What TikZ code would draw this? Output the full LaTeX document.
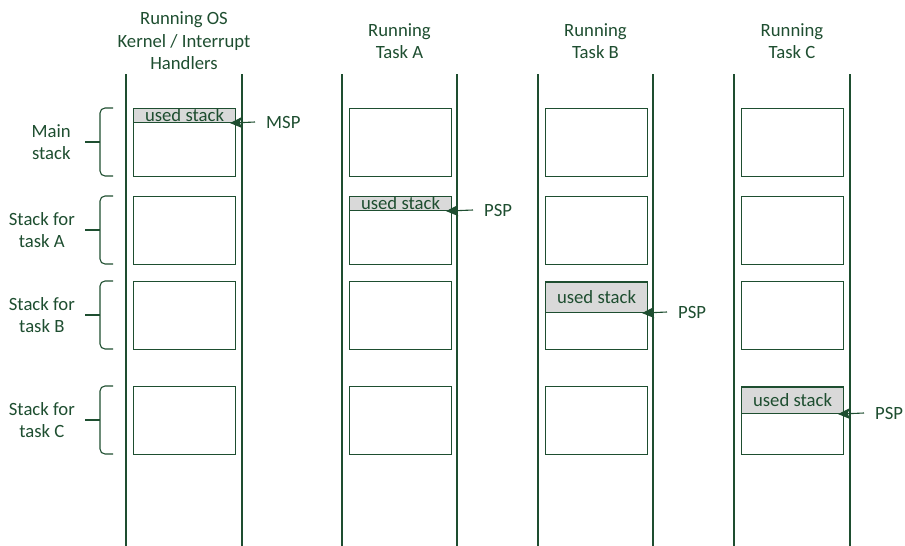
\documentclass[tikz,border=0pt]{standalone}
\usepackage{fontspec}
\setmainfont{Carlito}
\usetikzlibrary{arrows.meta,positioning}
\definecolor{DarkGreen}{RGB}{30,78,48}
\definecolor{UsedGray}{RGB}{217,217,217}

\begin{document}
\begin{tikzpicture}[x=1pt,y=-1pt,>=Latex,
  every node/.style={text=DarkGreen,font=\fontsize{18.7}{22.4}\selectfont},
  colline/.style={draw=DarkGreen,line width=1.1pt},
  stackbox/.style={draw=DarkGreen,line width=1.1pt,minimum width=102pt,minimum height=68pt,inner sep=0pt,anchor=north west},
  usedbox/.style={draw=DarkGreen,fill=UsedGray,line width=1.1pt,minimum width=102pt,inner sep=0pt,anchor=north west},
  bracket/.style={draw=DarkGreen,line width=1.1pt,rounded corners=5pt},
  ptr/.style={draw=DarkGreen,line width=1.1pt,-{Stealth[length=12pt,width=11pt,inset=2.5pt]}}]
\useasboundingbox (0,0) rectangle (905,546);
% time lines of the four running contexts
\foreach \x in {126,242,342,457,538,653,734,850}
  \draw[colline] (\x,74) -- (\x,546);
\node[align=center] (h1) at (184,41) {Running OS\\Kernel / Interrupt\\Handlers};
\node[align=center] (h2) at (399.5,41) {Running\\Task A};
\node[align=center] (h3) at (595.5,41) {Running\\Task B};
\node[align=center] (h4) at (792,41) {Running\\Task C};
% stack areas
\foreach \c/\x in {1/133,2/349,3/545,4/741}
  \foreach \r/\y in {m/108,a/196,b/281,c/386}
    \node[stackbox] (s\c\r) at (\x,\y) {};
% brackets on the left
\foreach \t/\m/\b in {108/142/176,196/230/264,281/315/349,386/420/454}{
  \draw[bracket] (113,\t) -| (100,\m) |- (113,\b);
  \draw[bracket] (100,\m) -- (85,\m);
}
\node[anchor=east,align=center,inner sep=0pt] (lm) at (71,142) {Main\\stack};
\node[anchor=east,align=center,inner sep=0pt] (la) at (75,230) {Stack for\\task A};
\node[anchor=east,align=center,inner sep=0pt] (lb) at (75,315) {Stack for\\task B};
\node[anchor=east,align=center,inner sep=0pt] (lc) at (75,420) {Stack for\\task C};
% used parts
\node[usedbox,minimum height=14pt] (u1) at (133,108) {};
\node[usedbox,minimum height=14pt] (u2) at (349,196) {};
\node[usedbox,minimum height=30pt] (u3) at (545,282) {};
\node[usedbox,minimum height=26pt] (u4) at (741,387) {};
\foreach \u in {u1,u2,u3,u4}
  \node at (\u.center) {used stack};
% stack pointers
\node[anchor=west,inner sep=0pt] (msp) at (266,122) {MSP};
\node[anchor=west,inner sep=0pt] (pspa) at (484,210) {PSP};
\node[anchor=west,inner sep=0pt] (pspb) at (678,312) {PSP};
\node[anchor=west,inner sep=0pt] (pspc) at (875,413) {PSP};
\draw[ptr] ([xshift=-11pt]msp.west) -- ([xshift=-6pt]u1.south east);
\draw[ptr] ([xshift=-11pt]pspa.west) -- ([xshift=-6pt]u2.south east);
\draw[ptr] ([xshift=-11pt]pspb.west) -- ([xshift=-6pt]u3.south east);
\draw[ptr] ([xshift=-11pt]pspc.west) -- ([xshift=-6pt]u4.south east);
\end{tikzpicture}
\end{document}
